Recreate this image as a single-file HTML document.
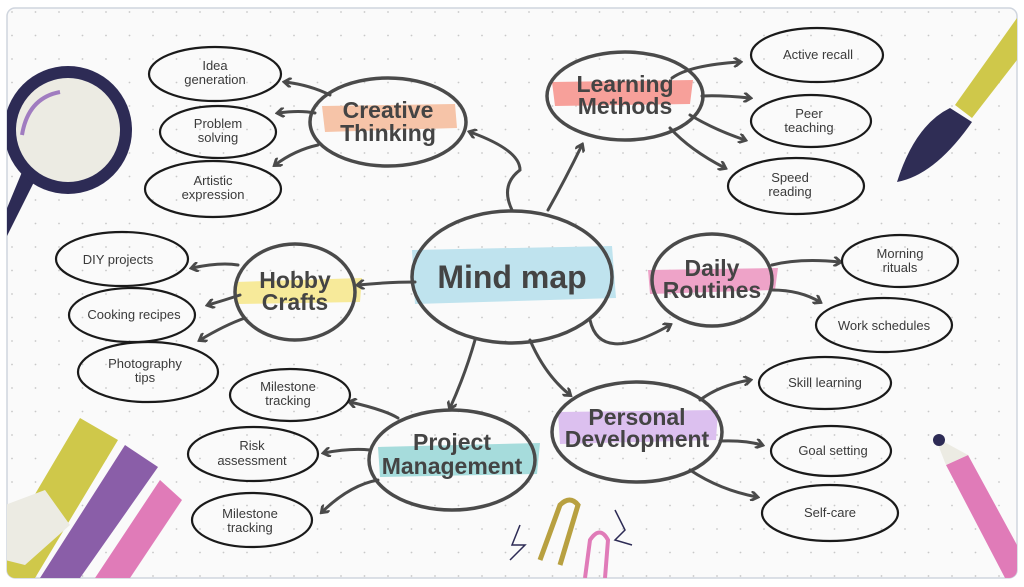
<!DOCTYPE html>
<html><head><meta charset="utf-8"><style>
html,body{margin:0;padding:0;background:#fff;width:1024px;height:587px;overflow:hidden}
svg{display:block}
text{font-family:"Liberation Sans Narrow","Liberation Sans",sans-serif;fill:#3a3a3a;text-anchor:middle}
.l{font-size:13px}
.m{font-size:23px;font-weight:bold;fill:#444}
.o{fill:none;stroke:#1a1a1a;stroke-width:2.2}
.n{fill:none;stroke:#4a4a4a;stroke-width:3.5}
.c{fill:none;stroke:#4a4a4a;stroke-width:3;stroke-linecap:round}
</style></head><body>
<svg width="1024" height="587" viewBox="0 0 1024 587">
<defs>
<pattern id="dots" width="23.5" height="23.5" patternUnits="userSpaceOnUse"><circle cx="12" cy="12" r="0.9" fill="#c8c8c8"/></pattern>
<marker id="a" markerWidth="10" markerHeight="10" refX="7" refY="5" orient="auto" markerUnits="userSpaceOnUse"><path d="M1,0 L8,5 L1,10" fill="none" stroke="#4a4a4a" stroke-width="2.8"/></marker>
<clipPath id="card"><rect x="7" y="8" width="1010" height="570" rx="8"/></clipPath>
</defs>
<rect x="7" y="8" width="1010" height="570" rx="8" fill="#fafafa" stroke="#cfd5de" stroke-width="1.5"/>
<rect x="7" y="8" width="1010" height="570" fill="url(#dots)" clip-path="url(#card)"/>
<g clip-path="url(#card)">
<!-- magnifier -->
<path d="M35,180 L0,250 L0,225 L22,172Z" fill="#2d2b55"/>
<circle cx="68" cy="130" r="64" fill="#2d2b55"/>
<circle cx="68" cy="130" r="52" fill="#ecebe3"/>
<path d="M22,135 Q28,98 60,92" fill="none" stroke="#a07cc0" stroke-width="4"/>
<!-- brush top right -->
<path d="M1017,18 L955,105 L972,118 L1017,60Z" fill="#cfc84a"/>
<path d="M950,108 Q915,125 897,182 Q935,175 972,122Z" fill="#2f2d55"/>
<!-- tapes bottom left -->
<path d="M5,545 L80,418 L118,440 L35,578 L5,578Z" fill="#cfc84a"/>
<path d="M40,578 L125,445 L158,467 L80,578Z" fill="#8a5ea8"/>
<path d="M95,578 L160,480 L182,500 L130,578Z" fill="#e07bb8"/>
<path d="M5,505 L45,490 L70,525 L25,565 L5,560Z" fill="#ecebe3"/>
<!-- pencil -->
<path d="M946,465 L968,455 L1017,545 L1017,578 L1005,578Z" fill="#e07bb8"/>
<path d="M935,437 L946,465 L968,455Z" fill="#ecebe3"/>
<circle cx="939" cy="440" r="6" fill="#2d2b55"/>
<!-- paperclips -->
<path d="M540,560 L560,505 Q570,495 578,505 L560,565" fill="none" stroke="#b8a040" stroke-width="5"/>
<path d="M585,578 L590,540 Q600,525 608,540 L605,578" fill="none" stroke="#e07bb8" stroke-width="4"/>
<path d="M520,525 L512,545 L525,545 L510,560" fill="none" stroke="#2d2b55" stroke-width="1.5"/>
<path d="M615,510 L625,530 L615,540 L632,545" fill="none" stroke="#2d2b55" stroke-width="1.5"/>
</g>
<!-- brushes behind main labels -->
<path d="M412,250 L612,246 L616,298 L415,304Z" fill="#bfe3ee"/>
<path d="M322,106 L455,104 L457,128 L325,132Z" fill="#f6c4a8"/>
<path d="M552,82 L693,80 L690,104 L555,106Z" fill="#f7a09a"/>
<path d="M648,270 L778,268 L775,290 L650,294Z" fill="#eea3c8"/>
<path d="M235,282 L362,278 L360,302 L238,304Z" fill="#f7ea9a"/>
<path d="M378,447 L540,443 L537,474 L380,477Z" fill="#a6dcdc"/>
<path d="M558,412 L718,410 L716,440 L560,444Z" fill="#dcc0ef"/>
<!-- main nodes -->
<ellipse class="n" cx="512" cy="277" rx="100" ry="66"/>
<ellipse class="n" cx="388" cy="122" rx="78" ry="44"/>
<ellipse class="n" cx="625" cy="96" rx="78" ry="44"/>
<ellipse class="n" cx="712" cy="280" rx="60" ry="46"/>
<ellipse class="n" cx="295" cy="292" rx="60" ry="48"/>
<ellipse class="n" cx="452" cy="460" rx="83" ry="50"/>
<ellipse class="n" cx="637" cy="432" rx="85" ry="50"/>
<text class="m" x="512" y="288" style="font-size:32px">Mind map</text>
<text class="m" x="388" y="118">Creative</text><text class="m" x="388" y="141">Thinking</text>
<text class="m" x="625" y="92">Learning</text><text class="m" x="625" y="114">Methods</text>
<text class="m" x="712" y="276">Daily</text><text class="m" x="712" y="298">Routines</text>
<text class="m" x="295" y="288">Hobby</text><text class="m" x="295" y="310">Crafts</text>
<text class="m" x="452" y="450">Project</text><text class="m" x="452" y="474">Management</text>
<text class="m" x="637" y="425">Personal</text><text class="m" x="637" y="447">Development</text>
<!-- connectors -->
<g class="c" marker-end="url(#a)">
<path d="M548,210 Q565,180 582,145"/>
<path d="M512,210 Q500,185 520,170 Q520,150 470,132"/>
<path d="M415,282 Q390,282 358,285"/>
<path d="M590,320 Q600,365 670,325"/>
<path d="M475,340 Q465,375 450,408"/>
<path d="M530,340 Q545,375 570,395"/>
<path d="M330,95 Q310,85 285,82"/>
<path d="M315,113 Q300,110 278,113"/>
<path d="M318,145 Q295,150 275,165"/>
<path d="M672,78 Q690,65 740,62"/>
<path d="M702,96 Q720,95 750,98"/>
<path d="M690,115 Q715,130 745,140"/>
<path d="M670,128 Q690,150 725,168"/>
<path d="M772,265 Q800,258 840,262"/>
<path d="M772,290 Q800,290 820,302"/>
<path d="M238,265 Q220,262 192,268"/>
<path d="M240,295 Q225,300 208,305"/>
<path d="M245,318 Q225,325 200,340"/>
<path d="M398,418 Q385,410 350,402"/>
<path d="M370,450 Q350,448 324,453"/>
<path d="M378,480 Q350,485 322,512"/>
<path d="M700,400 Q720,385 750,380"/>
<path d="M720,441 Q745,440 762,445"/>
<path d="M690,470 Q720,490 757,497"/>
</g>
<!-- leaves -->
<g>
<ellipse class="o" cx="215" cy="74" rx="66" ry="27"/><text class="l" x="215" y="70">Idea</text><text class="l" x="215" y="84">generation</text>
<ellipse class="o" cx="218" cy="132" rx="58" ry="26"/><text class="l" x="218" y="128">Problem</text><text class="l" x="218" y="142">solving</text>
<ellipse class="o" cx="213" cy="189" rx="68" ry="28"/><text class="l" x="213" y="185">Artistic</text><text class="l" x="213" y="199">expression</text>
<ellipse class="o" cx="122" cy="259" rx="66" ry="27"/><text class="l" x="118" y="264">DIY projects</text>
<ellipse class="o" cx="132" cy="315" rx="63" ry="27"/><text class="l" x="134" y="319">Cooking recipes</text>
<ellipse class="o" cx="148" cy="372" rx="70" ry="30"/><text class="l" x="145" y="368">Photography</text><text class="l" x="145" y="382">tips</text>
<ellipse class="o" cx="290" cy="395" rx="60" ry="26"/><text class="l" x="288" y="391">Milestone</text><text class="l" x="288" y="405">tracking</text>
<ellipse class="o" cx="253" cy="454" rx="65" ry="27"/><text class="l" x="252" y="450">Risk</text><text class="l" x="252" y="465">assessment</text>
<ellipse class="o" cx="252" cy="520" rx="60" ry="27"/><text class="l" x="250" y="518">Milestone</text><text class="l" x="250" y="532">tracking</text>
<ellipse class="o" cx="817" cy="55" rx="66" ry="27"/><text class="l" x="818" y="59">Active recall</text>
<ellipse class="o" cx="811" cy="121" rx="60" ry="26"/><text class="l" x="809" y="118">Peer</text><text class="l" x="809" y="132">teaching</text>
<ellipse class="o" cx="796" cy="186" rx="68" ry="28"/><text class="l" x="790" y="182">Speed</text><text class="l" x="790" y="196">reading</text>
<ellipse class="o" cx="900" cy="261" rx="58" ry="26"/><text class="l" x="900" y="258">Morning</text><text class="l" x="900" y="272">rituals</text>
<ellipse class="o" cx="884" cy="325" rx="68" ry="27"/><text class="l" x="884" y="330">Work schedules</text>
<ellipse class="o" cx="825" cy="383" rx="66" ry="26"/><text class="l" x="825" y="387">Skill learning</text>
<ellipse class="o" cx="831" cy="451" rx="60" ry="25"/><text class="l" x="833" y="455">Goal setting</text>
<ellipse class="o" cx="830" cy="513" rx="68" ry="28"/><text class="l" x="830" y="517">Self-care</text>
</g>
</svg>
</body></html>
